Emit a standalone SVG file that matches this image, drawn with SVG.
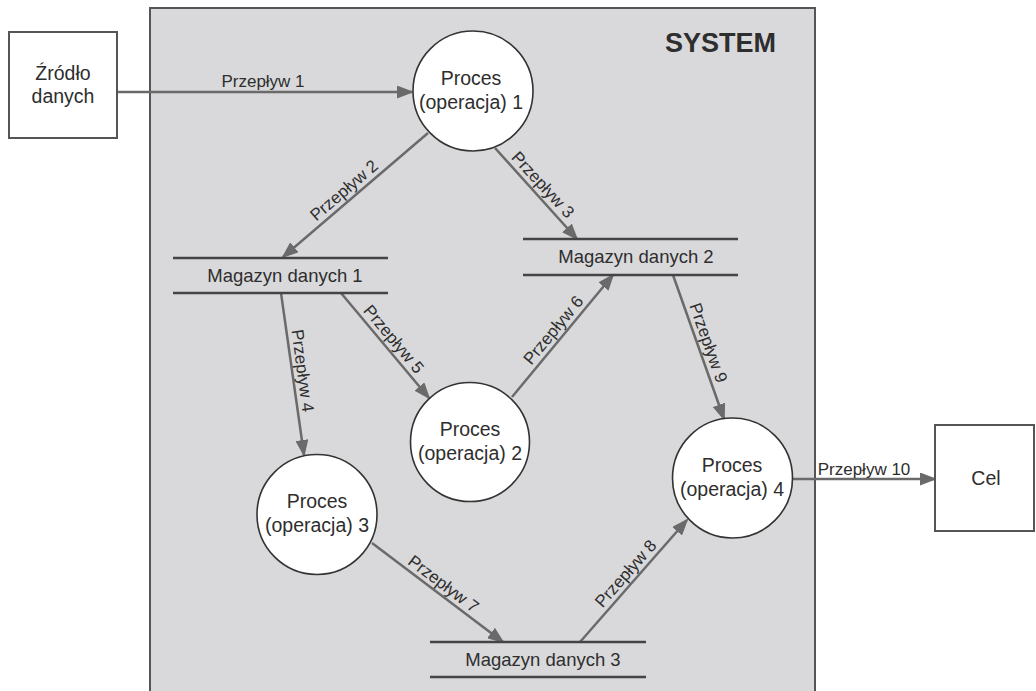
<svg xmlns="http://www.w3.org/2000/svg" width="1036" height="691" viewBox="0 0 1036 691">
<style>
text{font-family:"Liberation Sans",Arial,sans-serif;fill:#2e2e2e}
.box{fill:#fff;stroke:#555;stroke-width:2}
.proc{fill:#fff;stroke:#333;stroke-width:1.6}
.store{stroke:#444;stroke-width:2.5}
.ptxt{font-size:19.5px;text-anchor:middle}
.stxt{font-size:18.5px;text-anchor:middle}
.ftxt{font-size:17px;text-anchor:middle}
.flow{stroke:#6a6a6a;stroke-width:2.5;fill:none;marker-end:url(#arr)}
</style>
<defs>
<marker id="arr" markerUnits="userSpaceOnUse" markerWidth="17" markerHeight="13" refX="15" refY="6.5" orient="auto">
<path d="M0,0 L17,6.5 L0,13 z" fill="#6a6a6a"/>
</marker>
</defs>
<g id="system">
<rect x="150" y="8" width="665" height="700" fill="#d9d9db" stroke="#555" stroke-width="2"/>
<text x="776" y="52" font-size="27" font-weight="bold" text-anchor="end" fill="#1e1e1e">SYSTEM</text>
</g>
<g id="connectors">
<line class="flow" x1="117" y1="92" x2="412" y2="92"/>
<line class="flow" x1="428" y1="133" x2="283" y2="257"/>
<line class="flow" x1="495" y1="148" x2="577" y2="239"/>
<line class="flow" x1="281" y1="293" x2="304" y2="455"/>
<line class="flow" x1="341" y1="293" x2="429" y2="398"/>
<line class="flow" x1="512" y1="397" x2="613" y2="275"/>
<line class="flow" x1="372" y1="543" x2="503" y2="642"/>
<line class="flow" x1="580" y1="642" x2="687" y2="520"/>
<line class="flow" x1="673" y1="275" x2="724" y2="419"/>
<line class="flow" x1="793" y1="479" x2="935" y2="479"/>
<text class="ftxt" transform="translate(263,92)" y="-5">Przepływ 1</text>
<text class="ftxt" transform="translate(351,198.5) rotate(-40.7)" y="-5">Przepływ 2</text>
<text class="ftxt" transform="translate(535,192) rotate(47.3)" y="-5">Przepływ 3</text>
<text class="ftxt" transform="translate(292,372) rotate(82.3)" y="-5">Przepływ 4</text>
<text class="ftxt" transform="translate(385.5,346) rotate(50)" y="-5">Przepływ 5</text>
<text class="ftxt" transform="translate(561.6,337) rotate(-50.4)" y="-5">Przepływ 6</text>
<text class="ftxt" transform="translate(437,592.5) rotate(37)" y="-5">Przepływ 7</text>
<text class="ftxt" transform="translate(633.8,580.6) rotate(-48.7)" y="-5">Przepływ 8</text>
<text class="ftxt" transform="translate(698.3,346.4) rotate(70.5)" y="-5">Przepływ 9</text>
<text class="ftxt" transform="translate(864,479)" y="-4">Przepływ 10</text>
</g>
<g id="source">
<rect class="box" x="9" y="32" width="108" height="106"/>
<text class="ptxt" x="63" y="80" font-size="19">Źródło</text>
<text class="ptxt" x="63" y="103" font-size="19">danych</text>
</g>
<g id="target">
<rect class="box" x="935" y="425" width="99" height="106"/>
<text class="ptxt" x="986" y="485">Cel</text>
</g>
<g id="proc1">
<circle class="proc" cx="473" cy="91" r="60"/>
<text class="ptxt" x="471" y="85">Proces</text>
<text class="ptxt" x="471" y="109">(operacja) 1</text>
</g>
<g id="proc2">
<circle class="proc" cx="470" cy="442" r="59.5"/>
<text class="ptxt" x="470" y="436">Proces</text>
<text class="ptxt" x="470" y="460">(operacja) 2</text>
</g>
<g id="proc3">
<circle class="proc" cx="317" cy="514.5" r="60"/>
<text class="ptxt" x="317" y="508">Proces</text>
<text class="ptxt" x="317" y="532">(operacja) 3</text>
</g>
<g id="proc4">
<circle class="proc" cx="732.5" cy="478" r="60"/>
<text class="ptxt" x="732" y="472">Proces</text>
<text class="ptxt" x="732" y="496">(operacja) 4</text>
</g>
<g id="store1">
<line class="store" x1="173" y1="258" x2="388" y2="258"/>
<line class="store" x1="173" y1="293" x2="388" y2="293"/>
<text class="stxt" x="285" y="282">Magazyn danych 1</text>
</g>
<g id="store2">
<line class="store" x1="523" y1="239" x2="738" y2="239"/>
<line class="store" x1="523" y1="275" x2="738" y2="275"/>
<text class="stxt" x="636" y="263">Magazyn danych 2</text>
</g>
<g id="store3">
<line class="store" x1="430" y1="642" x2="646" y2="642"/>
<line class="store" x1="430" y1="677" x2="646" y2="677"/>
<text class="stxt" x="543" y="666">Magazyn danych 3</text>
</g>
</svg>
